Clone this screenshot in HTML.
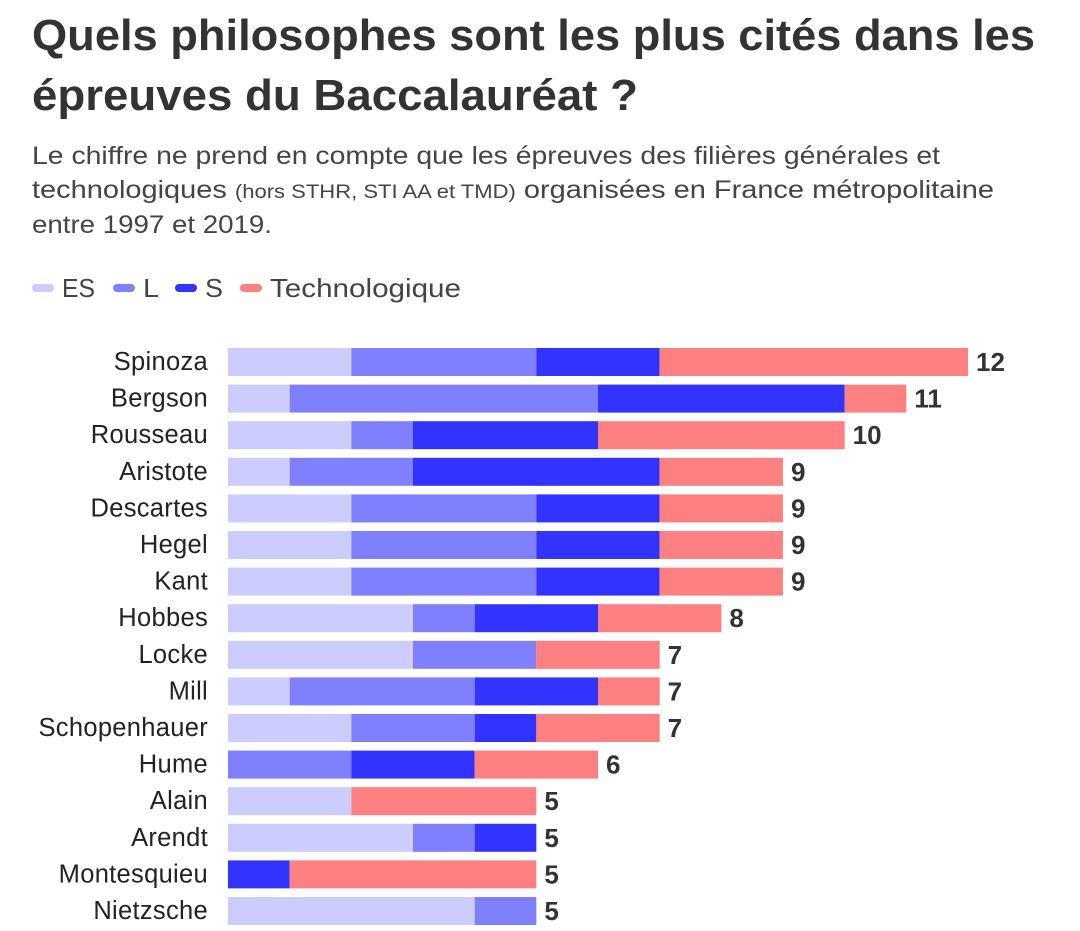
<!DOCTYPE html>
<html><head><meta charset="utf-8"><style>
body{margin:0;background:#fff;}
svg{display:block;font-family:"Liberation Sans",sans-serif;}
</style></head><body>
<svg id="chart" width="1080" height="931">
<text x="32" y="50" font-size="44" font-weight="bold" fill="#333" textLength="1003" lengthAdjust="spacingAndGlyphs">Quels philosophes sont les plus cités dans les</text>
<text x="32" y="110" font-size="44" font-weight="bold" fill="#333" textLength="606" lengthAdjust="spacingAndGlyphs">épreuves du Baccalauréat ?</text>
<text x="32" y="164" font-size="25" fill="#444" textLength="908" lengthAdjust="spacingAndGlyphs">Le chiffre ne prend en compte que les épreuves des filières générales et</text>
<text x="32" y="198" font-size="25" fill="#444" textLength="962" lengthAdjust="spacingAndGlyphs">technologiques <tspan font-size="19">(hors STHR, STI AA et TMD)</tspan> organisées en France métropolitaine</text>
<text x="32" y="233" font-size="25" fill="#444" textLength="240" lengthAdjust="spacingAndGlyphs">entre 1997 et 2019.</text>
<g id="legend"></g>
<g id="bars"></g>
</svg>
<script>
const names=["Spinoza","Bergson","Rousseau","Aristote","Descartes","Hegel","Kant","Hobbes","Locke","Mill","Schopenhauer","Hume","Alain","Arendt","Montesquieu","Nietzsche"];
const seriesNames=["ES","L","S","Technologique"];
const es=[2,1,2,1,2,2,2,3,3,1,2,0,2,3,0,4];
const l=[3,5,1,2,3,3,3,1,2,3,2,2,0,1,0,1];
const s=[2,4,3,4,2,2,2,2,0,2,1,2,0,1,1,0];
const tech=[5,1,4,2,2,2,2,2,2,1,2,2,3,0,4,0];
const colors=["#ccccff","#8080ff","#3333ff","#ff8080"];
const NS="http://www.w3.org/2000/svg";
const x0=228, unit=740/12, y0=348, step=36.6, bh=28;
const xs=v=>x0+v*unit;
const ys=i=>y0+i*step;
function mk(tag,attrs,parent){const e=document.createElementNS(NS,tag);for(const k in attrs)e.setAttribute(k,attrs[k]);parent.appendChild(e);return e;}
const lg=document.getElementById('legend');
const lxs=[32,113,175,240];
const tl=[33,16,18,191];
seriesNames.forEach((n,i)=>{
  const g=mk('g',{},lg);
  
  
  mk('rect',{x:lxs[i],y:284,width:22,height:8,rx:4,fill:colors[i]},g);
  const t=mk('text',{x:lxs[i]+30,y:297,'font-size':26,fill:'#444',textLength:tl[i],lengthAdjust:'spacingAndGlyphs'},g);t.textContent=n;
});
const bg=document.getElementById('bars');
const series=[es,l,s,tech];
names.forEach((n,i)=>{
  const g=mk('g',{},bg);
  
  
  const y=ys(i);
  const lab=mk('text',{x:208,y:y+bh/2+8,'font-size':25.5,fill:'#222','text-anchor':'end','letter-spacing':'0.3'},g);
  lab.textContent=n;
  
  
  let acc=0;
  series.forEach((arr,k)=>{
    const v=arr[i];
    if(v>0){
      const r=mk('rect',{x:xs(acc),y:y,width:xs(acc+v)-xs(acc),height:bh,fill:colors[k]},g);
      
      
    }
    acc+=v;
  });
  const vt=mk('text',{x:xs(acc)+8,y:y+bh/2+9,'font-size':26,'font-weight':'bold',fill:'#333'},g);
  vt.textContent=acc;
  
  
});
</script>
</body></html>
